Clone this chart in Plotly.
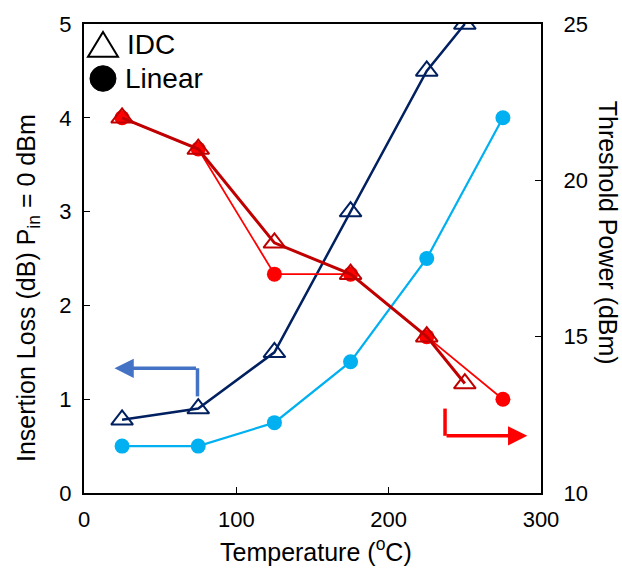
import plotly.graph_objects as go

temp_idc = [25, 75, 125, 175, 225, 250]
il_idc = [0.78, 0.9, 1.5, 3.0, 4.5, 5.0]
th_idc = [22, 21, 18, 17, 15, 13.5]

temp_lin = [25, 75, 125, 175, 225, 275]
il_lin = [0.5, 0.5, 0.75, 1.4, 2.5, 4.0]
th_lin = [22, 21, 17, 17, 15, 13]

legend_names = ["IDC", "Linear"]

FONT = "Liberation Sans, Arial, sans-serif"

fig = go.Figure()

fig.add_trace(go.Scatter(x=temp_lin, y=th_lin, mode="lines+markers", yaxis="y2",
                         name="Linear threshold",
                         line=dict(color="#FF0000", width=1.8),
                         marker=dict(symbol="circle", size=15, color="#FF0000"),
                         showlegend=False))
fig.add_trace(go.Scatter(x=temp_idc, y=th_idc, mode="lines+markers", yaxis="y2",
                         name="IDC threshold",
                         line=dict(color="#C00000", width=3),
                         marker=dict(symbol="triangle-up-open", size=19, color="#C00000",
                                     line=dict(width=2)),
                         showlegend=False))
fig.add_trace(go.Scatter(x=temp_lin, y=il_lin, mode="lines+markers",
                         name="Linear insertion loss",
                         line=dict(color="#00B0F0", width=2.2),
                         marker=dict(symbol="circle", size=15, color="#00B0F0"),
                         showlegend=False))
fig.add_trace(go.Scatter(x=temp_idc, y=il_idc, mode="lines+markers",
                         name="IDC insertion loss",
                         line=dict(color="#002060", width=2.5),
                         marker=dict(symbol="triangle-up-open", size=19, color="#002060",
                                     line=dict(width=2)),
                         showlegend=False))

# arrows
fig.add_shape(type="line", x0=74.5, x1=74.5, y0=1.03, y1=1.33, xref="x", yref="y",
              line=dict(color="#4472C4", width=3.5))
fig.add_annotation(x=20, y=1.33, ax=74.5, ay=1.33, axref="x", ayref="y", xref="x", yref="y",
                   text="", showarrow=True, arrowhead=2, arrowsize=1.1, arrowwidth=3.5,
                   arrowcolor="#4472C4")
fig.add_shape(type="line", x0=237, x1=237, y0=0.9, y1=0.61, xref="x", yref="y",
              line=dict(color="#FF0000", width=3.5))
fig.add_annotation(x=291, y=0.61, ax=237, ay=0.61, axref="x", ayref="y", xref="x", yref="y",
                   text="", showarrow=True, arrowhead=2, arrowsize=1.1, arrowwidth=3.5,
                   arrowcolor="#FF0000")

# legend (drawn manually for large symbols)
fig.add_shape(type="path", xref="paper", yref="paper",
              path="M 0.0416 0.983 L 0.0744 0.930 L 0.00875 0.930 Z",
              line=dict(color="black", width=2), fillcolor="rgba(0,0,0,0)")
fig.add_shape(type="circle", xref="paper", yref="paper",
              x0=0.0131, x1=0.070, y0=0.8565, y1=0.911,
              line=dict(color="black", width=1), fillcolor="black")
fig.add_annotation(x=0.0897, y=0.956, xref="paper", yref="paper", text=legend_names[0],
                   xanchor="left", yanchor="middle", showarrow=False,
                   font=dict(size=28, color="black", family=FONT))
fig.add_annotation(x=0.085, y=0.884, xref="paper", yref="paper", text=legend_names[1],
                   xanchor="left", yanchor="middle", showarrow=False,
                   font=dict(size=28, color="black", family=FONT))

# axis titles
fig.add_annotation(x=1.1466, y=0.555, xref="paper", yref="paper", text="Threshold Power (dBm)",
                   textangle=90, xanchor="center", yanchor="middle", showarrow=False,
                   font=dict(size=25, color="black", family=FONT))
fig.add_annotation(x=-0.1225, y=0.437, xref="paper", yref="paper",
                   text="Insertion Loss (dB) P<sub>in</sub> = 0 dBm",
                   textangle=-90, xanchor="center", yanchor="middle", showarrow=False,
                   font=dict(size=25, color="black", family=FONT))
fig.add_annotation(x=0.508, y=-0.122, xref="paper", yref="paper",
                   text="Temperature (<sup>o</sup>C)",
                   xanchor="center", yanchor="middle", showarrow=False,
                   font=dict(size=25, color="black", family=FONT))

axis_common = dict(showgrid=False, zeroline=False, showline=True, linecolor="black",
                   linewidth=2, ticks="inside", ticklen=6, tickcolor="black",
                   tickfont=dict(size=22, color="black", family=FONT))

fig.update_layout(
    width=622, height=569,
    margin=dict(l=84, r=81, t=19, b=76),
    plot_bgcolor="white", paper_bgcolor="white",
    font=dict(family=FONT, color="black"),
    xaxis=dict(range=[0, 300], tickvals=[0, 100, 200, 300], mirror=True,
               ticklabelstandoff=6, **axis_common),
    yaxis=dict(range=[0, 5], tickvals=[0, 1, 2, 3, 4, 5], ticklabelstandoff=6,
               **axis_common),
    yaxis2=dict(range=[10, 25], tickvals=[10, 15, 20, 25], overlaying="y", side="right",
                ticklabelstandoff=16, **axis_common),
    showlegend=False,
)

fig.write_html("out.html")
